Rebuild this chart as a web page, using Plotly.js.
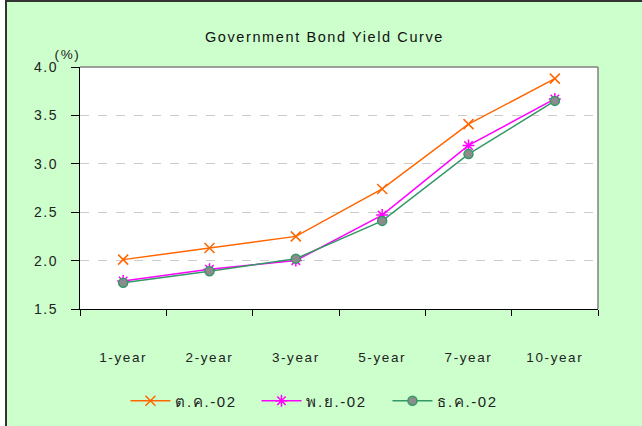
<!DOCTYPE html>
<html>
<head>
<meta charset="utf-8">
<script src="https://cdn.plot.ly/plotly-3.0.1.min.js"></script>
<style>
  html, body { margin: 0; padding: 0; background: #ffffff; width: 642px; height: 426px; overflow: hidden; }
  #frame { position: absolute; left: 5px; top: 0px; width: 637px; height: 426px;
           border-left: 2px solid #333333; border-top: 2px solid #333333; background: #CCFFCC; }
  #chart { position: absolute; left: 0; top: 0; width: 635px; height: 424px; }
  #chart .main-svg text { letter-spacing: 1.6px; }
</style>
</head>
<body>
<div id="frame"><div id="chart"></div></div>
<script>
const categories = ["1-year", "2-year", "3-year", "5-year", "7-year", "10-year"];
const seriesNames = ["ต.ค.-02", "พ.ย.-02", "ธ.ค.-02"];
const octValues = [2.01, 2.13, 2.25, 2.74, 3.41, 3.88];
const novValues = [1.79, 1.91, 2.00, 2.47, 3.19, 3.67];
const decValues = [1.77, 1.89, 2.02, 2.41, 3.10, 3.65];
const yTickValues = [1.5, 2.0, 2.5, 3.0, 3.5, 4.0];

const FONT = "Liberation Sans, Arial, Noto Sans, sans-serif";

const traces = [
  {
    x: categories, y: octValues, name: seriesNames[0], type: "scatter", mode: "lines+markers",
    line: { color: "#FF6600", width: 1.5 },
    marker: { symbol: "x-thin", size: 10, line: { color: "#FF6600", width: 1.5 } }
  },
  {
    x: categories, y: novValues, name: seriesNames[1], type: "scatter", mode: "lines+markers",
    line: { color: "#FF00FF", width: 1.5 },
    marker: { symbol: "asterisk", size: 10, line: { color: "#FF00FF", width: 1.5 } }
  },
  {
    x: categories, y: decValues, name: seriesNames[2], type: "scatter", mode: "lines+markers",
    line: { color: "#339966", width: 1.5 },
    marker: { symbol: "circle", size: 9, color: "#8C8C8C", line: { color: "#339966", width: 1.5 } }
  }
];

const layout = {
  width: 635, height: 424,
  paper_bgcolor: "#CCFFCC",
  plot_bgcolor: "#FFFFFF",
  margin: { l: 73, r: 44, t: 65, b: 117 },
  font: { family: FONT, size: 13, color: "#222222" },
  title: {
    text: "Government Bond Yield Curve",
    font: { family: FONT, size: 14.5, color: "#111111" },
    x: 0.5, xref: "container", xanchor: "center",
    y: 1 - 35 / 424, yref: "container", yanchor: "middle"
  },
  xaxis: {
    type: "category",
    categoryorder: "array", categoryarray: categories,
    range: [-0.5, 5.5],
    showline: true, linecolor: "#000000", linewidth: 1,
    ticks: "outside", tickson: "boundaries", ticklen: 6, tickcolor: "#000000", tickwidth: 1,
    ticklabelstandoff: 36,
    showgrid: false, zeroline: false,
    tickfont: { family: FONT, size: 13.5, color: "#222222" }
  },
  yaxis: {
    range: [1.5, 4.0],
    tickvals: yTickValues, tickformat: ".1f",
    showline: true, linecolor: "#000000", linewidth: 1,
    ticks: "outside", ticklen: 8, tickcolor: "#000000", tickwidth: 1,
    ticklabelstandoff: 10,
    showgrid: true, gridcolor: "#CCCCCC", griddash: "dash", gridwidth: 1,
    zeroline: false,
    tickfont: { family: FONT, size: 14, color: "#222222" }
  },
  shapes: [
    { type: "line", xref: "paper", yref: "paper", x0: 0, x1: 1, y0: 1, y1: 1, line: { color: "#808080", width: 1.5 } },
    { type: "line", xref: "paper", yref: "paper", x0: 1, x1: 1, y0: 0, y1: 1, line: { color: "#808080", width: 1.5 } }
  ],
  annotations: [
    { text: "(%)", xref: "paper", yref: "paper", x: -0.024, y: 1.05, xanchor: "center", yanchor: "middle",
      showarrow: false, font: { family: FONT, size: 13.5, color: "#222222" } }
  ],
  showlegend: true,
  legend: {
    orientation: "h",
    xref: "container", yref: "container",
    x: 0.496, xanchor: "center",
    y: 1 - 399 / 424, yanchor: "middle",
    bgcolor: "rgba(0,0,0,0)",
    font: { family: FONT, size: 15, color: "#222222" },
    itemwidth: 40,
    entrywidth: 76, entrywidthmode: "pixels"
  }
};

Plotly.newPlot("chart", traces, layout, { displayModeBar: false, staticPlot: true });
</script>
</body>
</html>
